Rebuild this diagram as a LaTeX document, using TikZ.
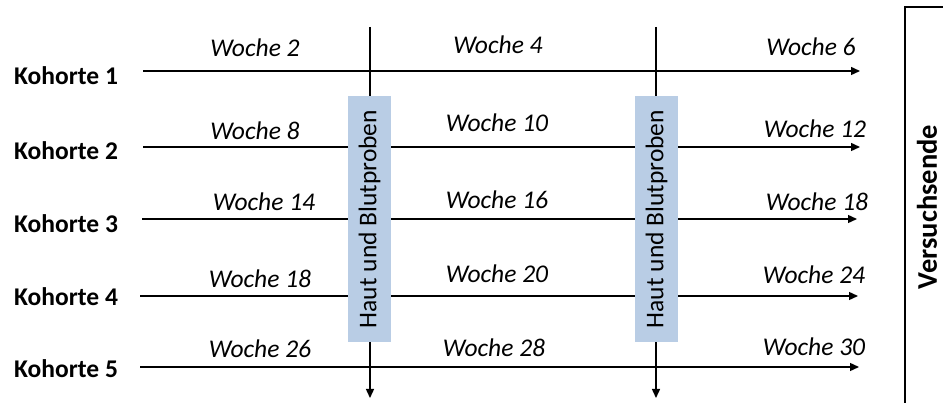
\documentclass[tikz,border=0pt]{standalone}
\usepackage{fontspec}
\setmainfont{Carlito}
\usetikzlibrary{arrows.meta}
\definecolor{probeblue}{HTML}{B9CDE5}
\begin{document}
\begin{tikzpicture}[x=1pt,y=-1pt,
  arr/.style={line width=1.4pt,-{Triangle[length=9pt,width=8pt]}},
  frame/.style={line width=1.4pt},
  cohort/.style={font=\fontsize{25.5}{30}\selectfont\bfseries,anchor=west,inner sep=0pt},
  week/.style={font=\fontsize{25.5}{30}\selectfont\itshape,inner sep=0pt},
  probe/.style={fill=probeblue,rotate=90,minimum width=246pt,minimum height=43pt,inner sep=0pt,
    font=\fontsize{25.5}{30}\selectfont},
  endlabel/.style={rotate=90,font=\fontsize{28.5}{34}\selectfont\bfseries,inner sep=0pt}
]
\useasboundingbox (0,0) rectangle (943,403);

% cohort labels
\node[cohort] (k1) at (14,76) {Kohorte 1};
\node[cohort] (k2) at (14,151) {Kohorte 2};
\node[cohort] (k3) at (14,224) {Kohorte 3};
\node[cohort] (k4) at (14,297) {Kohorte 4};
\node[cohort] (k5) at (14,369) {Kohorte 5};

% line start/end coordinates
\coordinate (s1) at (143,71);  \coordinate (e1) at (860,71);
\coordinate (s2) at (143,147); \coordinate (e2) at (860,147);
\coordinate (s3) at (142,219); \coordinate (e3) at (857,219);
\coordinate (s4) at (140,296); \coordinate (e4) at (858,296);
\coordinate (s5) at (140,367); \coordinate (e5) at (859,367);

\foreach \i in {1,...,5} {\draw[arr] (s\i) -- (e\i);}

% vertical sampling lines
\coordinate (v1t) at (370,27); \coordinate (v1b) at (370,398);
\coordinate (v2t) at (656,27); \coordinate (v2b) at (656,398);
\draw[arr] (v1t) -- (v1b);
\draw[arr] (v2t) -- (v2b);

% sampling boxes
\node[probe] (p1) at (369.5,219) {Haut und Blutproben};
\node[probe] (p2) at (656.5,219) {Haut und Blutproben};

% week labels
\node[week] (w11) at (255,48) {Woche 2};
\node[week] (w12) at (498,45) {Woche 4};
\node[week] (w13) at (811,47) {Woche 6};
\node[week] (w21) at (255,131) {Woche 8};
\node[week] (w22) at (497,123) {Woche 10};
\node[week] (w23) at (815,129) {Woche 12};
\node[week] (w31) at (264,202) {Woche 14};
\node[week] (w32) at (497,200) {Woche 16};
\node[week] (w33) at (817,202) {Woche 18};
\node[week] (w41) at (260,279) {Woche 18};
\node[week] (w42) at (497,274) {Woche 20};
\node[week] (w43) at (814,275) {Woche 24};
\node[week] (w51) at (260,349) {Woche 26};
\node[week] (w52) at (494,348) {Woche 28};
\node[week] (w53) at (814,347) {Woche 30};

% end of trial frame
\coordinate (fr) at (945,7);
\coordinate (fc) at (905,7);
\coordinate (fb) at (905,405);
\draw[frame] (fr) -- (fc) -- (fb);
\node[endlabel] (ende) at (927,207) {Versuchsende};
\end{tikzpicture}
\end{document}
